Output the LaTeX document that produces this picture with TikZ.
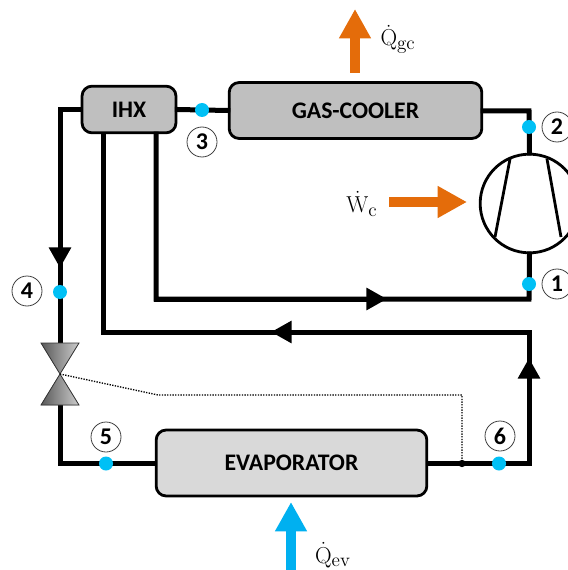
\documentclass[tikz,border=0pt]{standalone}
\usepackage{amsmath}
\usepackage[no-math]{fontspec}
\setmainfont{Carlito}
\usepackage{xcolor}
\usetikzlibrary{arrows.meta,positioning,calc}

\definecolor{heatorange}{HTML}{E46C0A}
\definecolor{coldblue}{HTML}{00B0F0}
\definecolor{statedot}{HTML}{00C0F5}

\tikzset{
  box/.style={draw=black, line width=2.1pt, rounded corners=7.5pt, inner sep=0pt, font=\fontsize{17.8}{20}\selectfont\bfseries},
  wire/.style={line width=3.75pt, line cap=rect, line join=miter},
  tip/.style={wire, -{Triangle[length=15.5pt,width=16pt]}},
  statept/.style={circle, fill=statedot, minimum size=10.5pt, inner sep=0pt},
  statenum/.style={circle, draw=black!75, line width=0.6pt, fill=white, minimum size=22.5pt, inner sep=0pt, font=\fontsize{18}{20}\selectfont\bfseries},
  heat/.style={line width=7.5pt, -{Triangle[length=22pt,width=22.5pt]}},
  vlv/.style={draw=black!80, line width=0.6pt, left color=black!65, right color=black!20},
  flowlabel/.style={font=\fontsize{19}{22}\selectfont}
}

\begin{document}
\begin{tikzpicture}[x=0.75pt, y=-0.75pt]
        \useasboundingbox (0,0) rectangle (567,570);

        % Corner points of the circuit
        \coordinate (tl) at (60,110);
        \coordinate (tr) at (529,111);
        \coordinate (br) at (529,299);
        \coordinate (ihxa) at (156,299);
        \coordinate (ihxb) at (103.5,332);
        \coordinate (rr) at (529,332);
        \coordinate (bl) at (60,463.5);
        \coordinate (brr) at (529,463.5);

        % Flow arrow tips
        \coordinate (tipdown) at (60,268);
        \coordinate (tipright) at (387,299);
        \coordinate (tipleft) at (271,332);
        \coordinate (tipup) at (529,358);

        % Components
        \node[box, fill=black!25, minimum width=70.5pt, minimum height=35pt] (ihx) at (129,109.5) {IHX};
        \node[box, fill=black!25, minimum width=189.5pt, minimum height=42pt] (gc) at (355.5,110.5) {GAS-COOLER};
        \node[box, fill=black!15, minimum width=203pt, minimum height=49.5pt] (evap) at (291.5,463) {EVAPORATOR};
        \node[circle, draw, line width=2.1pt, fill=white, minimum size=74pt, inner sep=0pt] (comp) at (529.5,203.5) {};

        % Valve
        \coordinate (vc) at (60,374);
        \coordinate (vtl) at (41,343);
        \coordinate (vtr) at (79,343);
        \coordinate (vbl) at (41,405);
        \coordinate (vbr) at (79,405);

        % Pipes
        \draw[wire] (ihx.west |- tl) -- (tl) -- (vtl -| tl);
        \draw[tip] (tl) -- (tipdown);
        \draw[wire] (ihx.east) -- (gc.west);
        \draw[wire] (gc.east |- tr) -- (tr) -- (comp.north);
        \draw[wire] (comp.south) -- (br) -- (ihxa) -- (ihx.south -| ihxa);
        \draw[tip] (ihxa) -- (tipright);
        \draw[wire] (ihx.south -| ihxb) -- (ihxb) -- (rr) -- (brr) -- (evap.east |- brr);
        \draw[tip] (rr) -- (tipleft);
        \draw[tip] (brr) -- (tipup);
        \draw[wire] (vbl -| bl) -- (bl) -- (evap.west |- bl);

        % Valve body
        \filldraw[vlv] (vc) -- (vtl) -- (vtr) -- cycle;
        \filldraw[vlv] (vc) -- (vbl) -- (vbr) -- cycle;

        % Compressor blades
        \draw[line width=2.1pt] (510,159) -- (495,237);
        \draw[line width=2.1pt] (547,159) -- (561,237);

        % Control line of the valve
        \coordinate (ctrlb) at (158,395);
        \coordinate (ctrlc) at (462,395);
        \node[circle, fill=black, minimum size=5.5pt, inner sep=0pt] (sensor) at (462,463.5) {};
        \draw[densely dotted, line width=1pt, black] (vc) -- (ctrlb) -- (ctrlc) -- (sensor);

        % State points
        \node[statept] (p1) at (529,284) {};
        \node[statept] (p2) at (529,127) {};
        \node[statept] (p3) at (202,110) {};
        \node[statept] (p4) at (60,292) {};
        \node[statept] (p5) at (106,463.5) {};
        \node[statept] (p6) at (499,463.5) {};

        % State numbers
        \node[statenum] (n1) at (557,284) {1};
        \node[statenum] (n2) at (557,127) {2};
        \node[statenum] (n3) at (202,142) {3};
        \node[statenum] (n4) at (27,291) {4};
        \node[statenum] (n5) at (106,437) {5};
        \node[statenum] (n6) at (500,436) {6};

        % Heat and work
        \coordinate (qgca) at (355,73);
        \coordinate (qgcb) at (355,9);
        \coordinate (wca) at (389,202);
        \coordinate (wcb) at (467,202);
        \coordinate (qeva) at (291,572);
        \coordinate (qevb) at (291,502);
        \draw[heat, heatorange] (qgca) -- (qgcb);
        \draw[heat, heatorange] (wca) -- (wcb);
        \draw[heat, coldblue] (qeva) -- (qevb);

        \node[flowlabel] (lqgc) at (398,39) {$\dot{\mathrm{Q}}_{\mathrm{gc}}$};
        \node[flowlabel] (lwc) at (362,204) {$\dot{\mathrm{W}}_{\mathrm{c}}$};
        \node[flowlabel] (lqev) at (333,555) {$\dot{\mathrm{Q}}_{\mathrm{ev}}$};
    \end{tikzpicture}
\end{document}
